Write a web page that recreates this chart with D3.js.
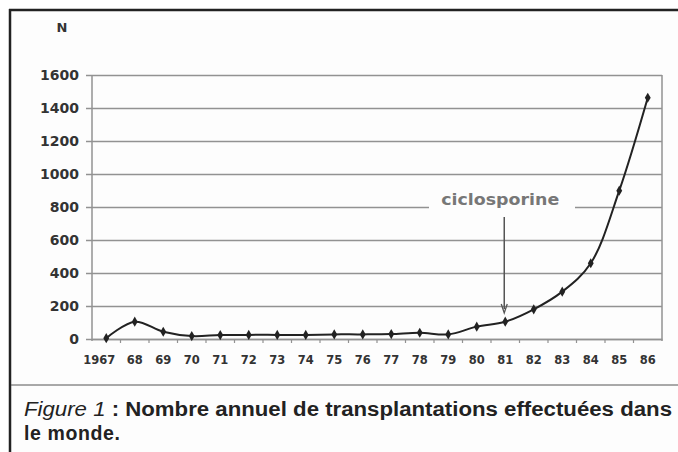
<!DOCTYPE html>
<html><head><meta charset="utf-8">
<script src="https://cdn.jsdelivr.net/npm/d3@7"></script>
<style>
html,body{margin:0;padding:0;background:#fff;}
svg{display:block;}
</style></head>
<body>
<svg id="c" width="678" height="452"></svg>
<script>
const categories = ["1967","68","69","70","71","72","73","74","75","76","77","78","79","80","81","82","83","84","85","86"];
const values = [5,105,44,18,24,25,25,25,28,28,30,38,28,75,105,180,287,459,899,1462];
const yTicks = [0,200,400,600,800,1000,1200,1400,1600];
const annotationLabel = "ciclosporine";
const annotationCategory = "81";
const yAxisTitle = "N";
const captionItalic = "Figure 1";
const captionLine1 = " : Nombre annuel de transplantations effectuées dans";
const captionLine2 = "le monde.";

const svg = d3.select("#c");
const pLeft = 92, pRight = 662, pTop = 75, pBottom = 339;

// frame
svg.append("rect").attr("x",10).attr("y",10).attr("width",668).attr("height",442).attr("fill","#fdfdfd");
svg.append("line").attr("x1",9).attr("x2",678).attr("y1",10).attr("y2",10).attr("stroke","#222").attr("stroke-width",2.5);
svg.append("line").attr("x1",10).attr("x2",10).attr("y1",9).attr("y2",452).attr("stroke","#222").attr("stroke-width",2.5);
svg.append("line").attr("x1",11).attr("x2",678).attr("y1",385).attr("y2",385).attr("stroke","#555").attr("stroke-width",1);

const x = d3.scaleBand().domain(categories).range([pLeft,pRight]).padding(0);
const y = d3.scaleLinear().domain([0,1600]).range([pBottom,pTop]);

// gridlines + y axis
const yAxis = d3.axisLeft(y).tickValues(yTicks).tickSize(-(pRight-pLeft)).tickPadding(8).tickFormat(d3.format("d"));
const gy = svg.append("g").attr("transform",`translate(${pLeft},0)`).call(yAxis);
gy.select(".domain").remove();
gy.selectAll(".tick line").attr("x1",-6).attr("stroke","#929292").attr("stroke-width",1.5);
gy.selectAll(".tick text").attr("font-family","DejaVu Sans").attr("font-weight","bold").attr("font-size",14).attr("fill","#333").attr("x",-13).attr("dy","0.35em");

// plot frame verticals
svg.append("line").attr("x1",pLeft).attr("x2",pLeft).attr("y1",pTop).attr("y2",pBottom+2).attr("stroke","#929292").attr("stroke-width",1.5);
svg.append("line").attr("x1",pRight).attr("x2",pRight).attr("y1",pTop).attr("y2",pBottom+2).attr("stroke","#929292").attr("stroke-width",1.5);

// x axis
const xAxis = d3.axisBottom(x).tickSize(0).tickPadding(14);
const gx = svg.append("g").attr("transform",`translate(0,${pBottom})`).call(xAxis);
gx.select(".domain").attr("stroke","#929292").attr("stroke-width",1.5);
gx.selectAll(".tick text").attr("font-family","DejaVu Sans").attr("font-weight","bold").attr("font-size",11.5).attr("fill","#333").attr("dy","0.35em").attr("y",21)
  .attr("dx",(d,i)=> i===0 ? -7 : 0);
// boundary ticks
const bounds = categories.slice(1).map(c => x(c));
svg.append("g").selectAll("line").data(bounds).join("line")
  .attr("x1",d=>d).attr("x2",d=>d).attr("y1",pBottom).attr("y2",pBottom+4)
  .attr("stroke","#929292").attr("stroke-width",1.2);

// annotation
const ax = x(annotationCategory) + x.bandwidth()/2 - 1;
svg.append("rect").attr("x",429).attr("y",192).attr("width",146).attr("height",20).attr("fill","#fdfdfd");
svg.append("text").attr("x",ax-4).attr("y",205).attr("text-anchor","middle")
  .attr("font-family","DejaVu Sans").attr("font-weight","bold").attr("font-size",15).attr("fill","#777")
  .attr("textLength",118).attr("lengthAdjust","spacingAndGlyphs").text(annotationLabel);
svg.append("line").attr("x1",ax).attr("x2",ax).attr("y1",217).attr("y2",309).attr("stroke","#555").attr("stroke-width",1.5);
svg.append("path").attr("d",`M${ax-3},${304}L${ax},${313}L${ax+3},${304}`).attr("fill","none").attr("stroke","#555").attr("stroke-width",1.3);

// line
const pts = categories.map((c,i)=>[x(c)+x.bandwidth()/2, y(values[i])]);
svg.append("path").attr("d",d3.line().curve(d3.curveCatmullRom.alpha(0.5))(pts))
  .attr("fill","none").attr("stroke","#222").attr("stroke-width",2);
svg.append("g").selectAll("path").data(pts).join("path")
  .attr("d",d3.symbol().type(d3.symbolDiamond).size(30))
  .attr("transform",d=>`translate(${d[0]},${d[1]})`).attr("fill","#222");

// y title
svg.append("text").attr("x",62).attr("y",32).attr("text-anchor","middle")
  .attr("font-family","DejaVu Sans").attr("font-weight","bold").attr("font-size",13).attr("fill","#333").text(yAxisTitle);

// caption
const cap = svg.append("text").attr("x",24).attr("y",416).attr("font-family","Liberation Sans, Arial, sans-serif")
  .attr("font-weight","bold").attr("font-size",19.5).attr("fill","#222");
cap.append("tspan").attr("font-style","italic").attr("font-weight","normal").text(captionItalic);
cap.append("tspan").text(captionLine1);
svg.append("text").attr("x",24).attr("y",440).attr("font-family","Liberation Sans, Arial, sans-serif")
  .attr("font-weight","bold").attr("font-size",19.5).attr("fill","#222").attr("letter-spacing",0.6).text(captionLine2);
// fit line1 width
const w = cap.node().getComputedTextLength();
if (Math.abs(w-648) > 3) cap.attr("textLength",648).attr("lengthAdjust","spacingAndGlyphs");
</script>
</body></html>
